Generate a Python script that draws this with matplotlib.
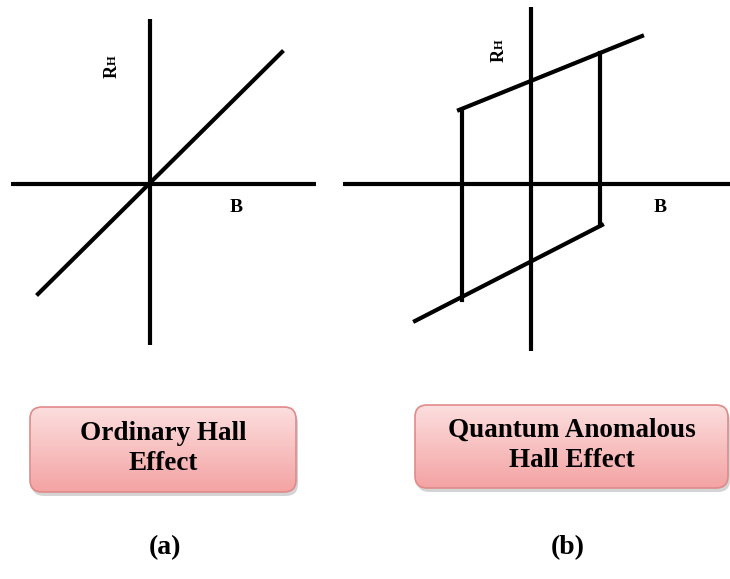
import numpy as np
import matplotlib
matplotlib.use('Agg')
from matplotlib import pyplot as plt
from matplotlib.patches import FancyBboxPatch

plt.rcParams['font.family'] = ['Liberation Serif', 'DejaVu Serif']
plt.rcParams['font.weight'] = 'bold'

# (a) ordinary Hall effect: R_H linear in B
ord_B = [-112, 132]
ord_R = [-110, 132]

# (b) quantum anomalous Hall effect: hysteresis loop
qah_upper_B = [-72, 111]
qah_upper_R = [74, 148]
qah_lower_B = [-116, 71]
qah_lower_R = [-137, -41]
qah_right_B = [69, 69]
qah_right_R = [131, -41]
qah_left_B = [-69, -69]
qah_left_R = [74, -116]

box_titles = ['Ordinary Hall\nEffect', 'Quantum Anomalous\nHall Effect']
panel_labels = ['(a)', '(b)']

W, H = 730, 579
fig = plt.figure(figsize=(W / 100, H / 100), dpi=100)


def add_panel(left_px, width_px, x0, hx, vy):
    # axes in pixel-sized units, origin at the axis crossing
    ax = fig.add_axes([left_px / W, (H - 380) / H, width_px / W, 380 / H])
    ax.set_xlim(-x0, width_px - x0)
    ax.set_ylim(184 - 380, 184)
    ax.axis('off')
    ax.plot(hx, [0, 0], color='black', lw=3, solid_capstyle='butt')
    ax.plot([0, 0], vy, color='black', lw=3, solid_capstyle='butt')
    return ax


ax_a = add_panel(0, 330, 150, [-139, 166], [165, -161])
ax_a.plot(ord_B, ord_R, color='black', lw=3)
ax_a.text(86, -24, 'B', fontsize=14, ha='center', va='center')
ax_a.text(-38, 112, 'R', fontsize=13, rotation=90, ha='center', va='center')
ax_a.text(-37, 124, 'H', fontsize=9, rotation=90, ha='center', va='center')

ax_b = add_panel(330, 400, 201, [-188, 199], [177, -167])
for bx, ry in [(qah_upper_B, qah_upper_R), (qah_lower_B, qah_lower_R),
               (qah_right_B, qah_right_R), (qah_left_B, qah_left_R)]:
    ax_b.plot(bx, ry, color='black', lw=3)
ax_b.text(129, -24, 'B', fontsize=14, ha='center', va='center')
ax_b.text(-32, 128, 'R', fontsize=13, rotation=90, ha='center', va='center')
ax_b.text(-31, 140, 'H', fontsize=9, rotation=90, ha='center', va='center')

# bottom part: gradient boxes and panel labels
ax_t = fig.add_axes([0, 0, 1, 1])
ax_t.set_xlim(0, W)
ax_t.set_ylim(H, 0)
ax_t.axis('off')

grad = np.linspace(0, 1, 100).reshape(-1, 1)
cmap = matplotlib.colors.LinearSegmentedColormap.from_list('pink', ['#fcdede', '#f4a3a3'])

boxes = [(30, 407, 266, 85), (415, 405, 313, 83)]
for (bx, by, bw, bh), title in zip(boxes, box_titles):
    shadow = FancyBboxPatch((bx + 2, by + 4), bw, bh, boxstyle='round,pad=0,rounding_size=12',
                            fc='#b8b8b8', ec='none', alpha=0.6)
    ax_t.add_patch(shadow)
    patch = FancyBboxPatch((bx, by), bw, bh, boxstyle='round,pad=0,rounding_size=12',
                           fc='none', ec='#e08a8a', lw=1.2, zorder=3)
    ax_t.add_patch(patch)
    im = ax_t.imshow(grad, extent=(bx, bx + bw, by + bh, by), cmap=cmap, aspect='auto', zorder=2)
    im.set_clip_path(patch)
    ax_t.text(bx + bw / 2, by + bh / 2 - 1, title, fontsize=19.5, ha='center', va='center',
              linespacing=1.25, zorder=4)

ax_t.text(165, 548, panel_labels[0], fontsize=20, ha='center', va='center')
ax_t.text(568, 548, panel_labels[1], fontsize=20, ha='center', va='center')

fig.savefig('out.png', dpi=100)
